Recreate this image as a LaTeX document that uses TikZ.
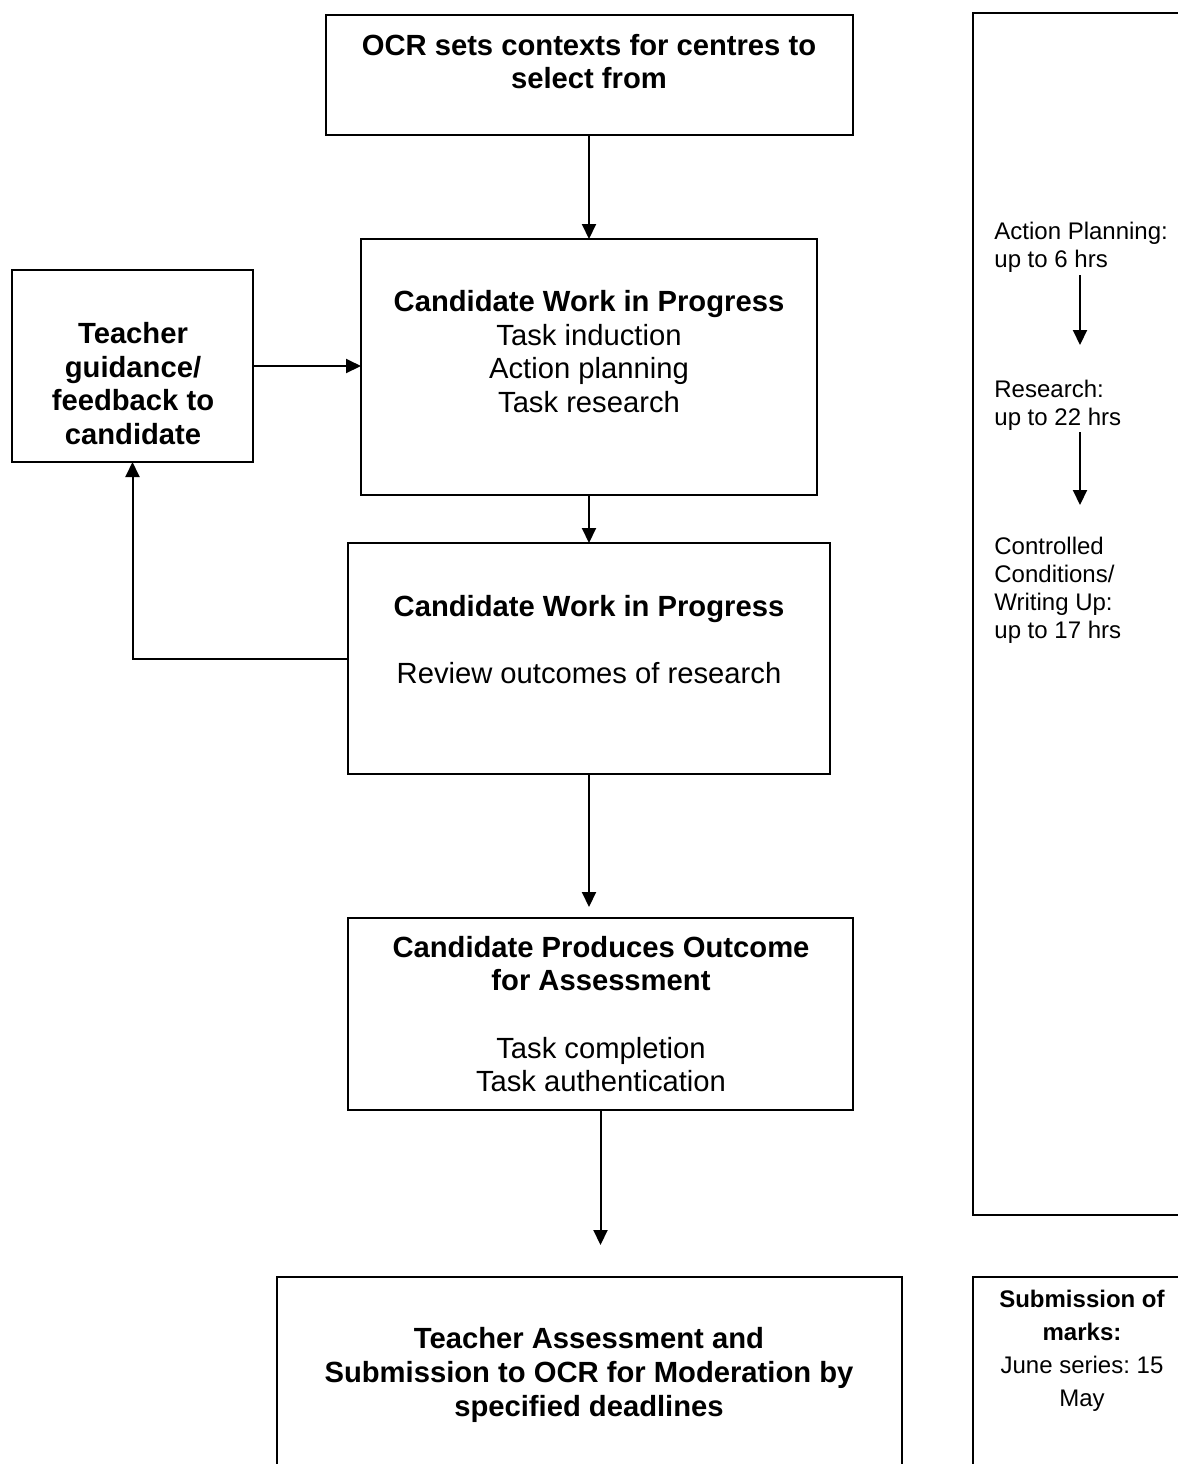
\documentclass[tikz,border=0pt]{standalone}
\usepackage{fontspec}
\setmainfont{Liberation Sans}
\frenchspacing
\usetikzlibrary{arrows.meta}
\begin{document}
\begin{tikzpicture}[x=0.5pt,y=-0.5pt,
  bx/.style={draw,line width=1pt,inner sep=0pt,outer sep=0pt},
  big/.style={inner sep=0pt,align=center,font=\fontsize{14.6}{16.8}\selectfont},
  small/.style={inner sep=0pt,font=\fontsize{12}{14}\selectfont},
  arr/.style={line width=1pt,-{Triangle[length=7.5pt,width=7pt]}}]
\useasboundingbox (0,0) rectangle (1178,1464);
\clip (0,0) rectangle (1178,1464);
% boxes
\node[bx,minimum width=263.5pt,minimum height=60pt] (ocr) at (589.5,75) {};
\node[bx,minimum width=228pt,minimum height=128pt] (cw1) at (589,367) {};
\node[bx,minimum width=120.5pt,minimum height=96pt] (teach) at (132.5,366) {};
\node[bx,minimum width=241pt,minimum height=115.5pt] (cw2) at (589,658.5) {};
\node[bx,minimum width=252.5pt,minimum height=96pt] (cpo) at (600.5,1014) {};
\node[bx,minimum width=312.5pt,minimum height=161.5pt] (sub) at (589.5,1438.5) {};
\node[bx,minimum width=138.5pt,minimum height=601pt] (panel) at (1111.5,614) {};
\node[bx,minimum width=138.5pt,minimum height=161.5pt] (subm) at (1111.5,1438.5) {};
% texts
\node[big] (tocr) at (589,61.5) {\textbf{OCR sets contexts for centres to}\\\textbf{select from}};
\node[big] (tcw1) at (589,351.5) {\textbf{Candidate Work in Progress}\\Task induction\\Action planning\\Task research};
\node[big] (tteach) at (133,383.5) {\textbf{Teacher}\\\textbf{guidance/}\\\textbf{feedback to}\\\textbf{candidate}};
\node[big] (tcw2) at (589,639.5) {\textbf{Candidate Work in Progress}\\[16.8pt]Review outcomes of research};
\node[big] (tcpo) at (601,1014) {\textbf{Candidate Produces Outcome}\\\textbf{for Assessment}\\[16.8pt]Task completion\\Task authentication};
\node[big] (tsub) at (589,1375) {\textbf{Teacher Assessment and}\\\textbf{Submission to OCR for Moderation by}\\\textbf{specified deadlines}};
\node[small,align=left,anchor=west] (tap) at (994,247) {Action Planning:\\up to 6 hrs};
\node[small,align=left,anchor=west] (trs) at (994,405.5) {Research:\\up to 22 hrs};
\node[small,align=left,anchor=west] (tcc) at (994,590.5) {Controlled\\Conditions/\\Writing Up:\\up to 17 hrs};
\node[small,align=center,font=\fontsize{12}{16.5}\selectfont] (tsubm) at (1082,1351) {\textbf{Submission of}\\\textbf{marks:}\\June series: 15\\May};
% connectors
\draw[arr] (cw1.north |- ocr.south) -- (cw1.north);
\draw[arr] (teach.east) -- (teach.east -| cw1.west);
\draw[arr] (cw1.south) -- (cw2.north);
\draw[arr] (cw2.west) -| (teach.south);
\draw[arr,shorten >=5.5pt] (cw2.south) -- (cw2.south |- cpo.north);
\coordinate (cend) at (600.5,1245);
\draw[arr] (cpo.south) -- (cend);
\coordinate (p1) at (1080,275);
\coordinate (p2) at (1080,345);
\coordinate (p3) at (1080,432);
\coordinate (p4) at (1080,505);
\draw[arr] (p1) -- (p2);
\draw[arr] (p3) -- (p4);
\end{tikzpicture}
\end{document}
